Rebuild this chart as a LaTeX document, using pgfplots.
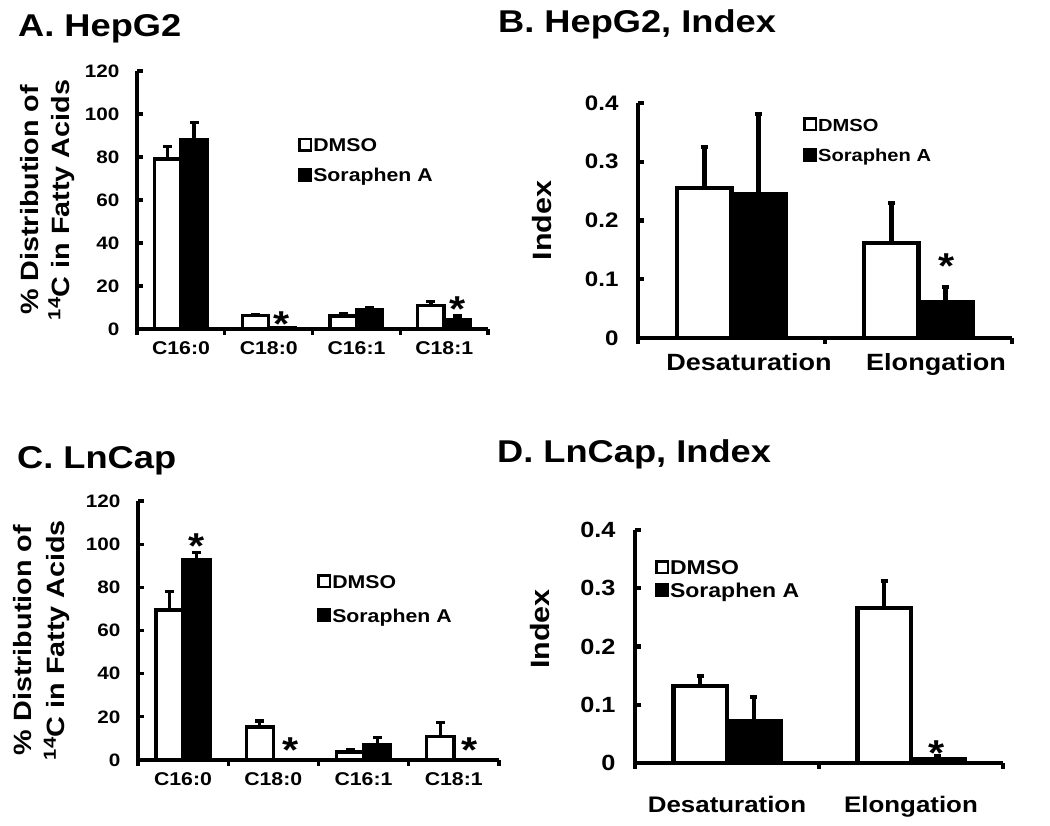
\documentclass[border=0pt]{standalone}
\usepackage{pgfplots}
\pgfplotsset{compat=1.18}
\usepackage{pgfplotstable}
\usepackage{fontspec}
\setmainfont{Liberation Sans}[FakeStretch=1.15]

\pgfplotstableread{
x dmso dmsoerr sor sorerr
1 79   6    88  8
2 6.3  0.3  0.5 0.1
3 6    1    8.8 1.2
4 11   1.8  4.3 1.7
}\dataA
\pgfplotstableread{
x dmso dmsoerr sor sorerr
1 0.255 0.070 0.245 0.136
2 0.162 0.068 0.061 0.026
}\dataB
\pgfplotstableread{
x dmso dmsoerr sor sorerr
1 69.5 8.5 93  3
2 15.3 2.7 0.3 0
3 3.7  1.0 7   3.4
4 11   6.5 0.3 0
}\dataC
\pgfplotstableread{
x dmso dmsoerr sor sorerr
1 0.132 0.017 0.072 0.041
2 0.266 0.046 0.007 0.004
}\dataD

\tikzset{ast/.style={anchor=base, yshift=-20.5pt, inner sep=0pt, text depth=0pt,
  font=\fontsize{36}{36}\selectfont\bfseries}}
\pgfplotsset{
  panel/.style={
    scale only axis, axis lines=left,
    axis line style={-, line width=#1},
    clip=false, enlargelimits=false,
    ybar=0pt, bar width=0.3,
    tick align=inside, major tick length=6pt,
    tick style={line width=#1, black},
    xtick style={yshift=-6pt},
    /pgf/number format/assume math mode=true,
    legend cell align=left,
    legend style={draw=none, fill=none, inner sep=0pt,
      nodes={inner sep=1pt, anchor=base west}},
  },
  panel/.default=3.3pt,
  sq/.style={legend image code/.code={
      \draw[##1,/tikz/.cd,line width=2.5pt] (1.25pt,1.25pt) rectangle (12.75pt,12.75pt);}},
  eb/.style n args={2}{error bars/y dir=plus, error bars/y explicit,
    error bars/error mark=-,
    error bars/error bar style={line width=#1, black},
    error bars/error mark options={rotate=90, line width=#1, mark size=#2, black}},
  dm/.style n args={2}{fill=white, draw=black, line width=#1, sq, eb={#1}{#2}},
  so/.style n args={2}{fill=black, draw=black, line width=#1, sq, eb={#1}{#2}},
}

\begin{document}
\bfseries
\begin{tikzpicture}[x=1pt,y=1pt]
\useasboundingbox (0pt,0pt) rectangle (1050pt,825pt);

% titles
\node[anchor=base west, inner sep=0pt, font=\fontsize{31.5}{36}\selectfont\bfseries] at (18pt,788pt) {A. HepG2};
\node[anchor=base west, inner sep=0pt, font=\fontsize{31.5}{36}\selectfont\bfseries] at (498pt,792pt) {B. HepG2, Index};
\node[anchor=base west, inner sep=0pt, font=\fontsize{31.5}{36}\selectfont\bfseries] at (17pt,356pt) {C. LnCap};
\node[anchor=base west, inner sep=0pt, font=\fontsize{31.5}{36}\selectfont\bfseries] at (497pt,362pt) {D. LnCap, Index};

% ---------------- A
\begin{axis}[panel=3.3pt, at={(137pt,496pt)}, anchor=south west, width=351pt, height=258pt,
  xmin=0.5, xmax=4.5, ymin=0, ymax=120,
  ytick={0,20,...,120},
  yticklabel style={xshift=-14pt, font=\fontsize{18}{20}\selectfont\bfseries},
  xtick={0.5,1.5,2.5,3.5,4.5}, xticklabels={C16:0,C18:0,C16:1,C18:1,{}},
  xticklabel style={xshift=44pt, yshift=-9pt, font=\fontsize{18.5}{20}\selectfont\bfseries},
  ylabel={\% Distribution of\\\textsuperscript{14}C in Fatty Acids},
  ylabel style={at={(axis description cs:-0.255,0.5)}, anchor=center, align=center,
    font=\fontsize{25}{31}\selectfont\bfseries},
  legend style={at={(axis description cs:0.459,0.742)}, anchor=north west,
    font=\fontsize{18.5}{20}\selectfont\bfseries, row sep=13pt},
]
\addplot[dm={3.3pt}{4.5pt}] table[x=x, y=dmso, y error=dmsoerr]{\dataA};
\addlegendentry{DMSO}
\addplot[so={3.3pt}{4.5pt}] table[x=x, y=sor, y error=sorerr]{\dataA};
\addlegendentry{Soraphen A}
\node[ast] at (axis cs:2.15,6) {*};
\node[ast] at (axis cs:4.15,13) {*};
\end{axis}

% ---------------- B
\begin{axis}[panel=4.3pt, at={(638pt,487pt)}, anchor=south west, width=374pt, height=235pt,
  xmin=0.5, xmax=2.5, ymin=0, ymax=0.4, bar width=0.29,
  ytick={0,0.1,...,0.4},
  yticklabel style={xshift=-16pt, font=\fontsize{21}{24}\selectfont\bfseries},
  xtick={0.5,1.5,2.5}, xticklabels={Desaturation,Elongation,{}},
  xticklabel style={xshift=111pt, yshift=-12pt, font=\fontsize{23.5}{26}\selectfont\bfseries},
  ylabel={Index},
  ylabel style={at={(axis description cs:-0.257,0.5)}, anchor=center,
    font=\fontsize{26.5}{30}\selectfont\bfseries},
  legend style={at={(axis description cs:0.441,0.94)}, anchor=north west,
    font=\fontsize{17.5}{20}\selectfont\bfseries, row sep=14pt},
]
\addplot[dm={4.3pt}{3.8pt}] table[x=x, y=dmso, y error=dmsoerr]{\dataB};
\addlegendentry{DMSO}
\addplot[so={4.3pt}{3.8pt}] table[x=x, y=sor, y error=sorerr]{\dataB};
\addlegendentry{Soraphen A}
\node[ast] at (axis cs:2.15,0.136) {*};
\end{axis}

% ---------------- C
\begin{axis}[panel=3.3pt, at={(138pt,65pt)}, anchor=south west, width=361pt, height=259pt,
  xmin=0.5, xmax=4.5, ymin=0, ymax=120,
  ytick={0,20,...,120},
  yticklabel style={xshift=-14pt, font=\fontsize{18}{20}\selectfont\bfseries},
  xtick={0.5,1.5,2.5,3.5,4.5}, xticklabels={C16:0,C18:0,C16:1,C18:1,{}},
  xticklabel style={xshift=45pt, yshift=-9pt, font=\fontsize{18.5}{20}\selectfont\bfseries},
  ylabel={\% Distribution of\\\textsuperscript{14}C in Fatty Acids},
  ylabel style={at={(axis description cs:-0.266,0.463)}, anchor=center, align=center,
    font=\fontsize{25}{33}\selectfont\bfseries},
  legend style={at={(axis description cs:0.496,0.718)}, anchor=north west,
    font=\fontsize{18.5}{20}\selectfont\bfseries, row sep=17pt},
]
\addplot[dm={3.3pt}{4.5pt}] table[x=x, y=dmso, y error=dmsoerr]{\dataC};
\addlegendentry{DMSO}
\addplot[so={3.3pt}{4.5pt}] table[x=x, y=sor, y error=sorerr]{\dataC};
\addlegendentry{Soraphen A}
\node[ast] at (axis cs:1.15,102.9) {*};
\node[ast] at (axis cs:2.19,8.3) {*};
\node[ast] at (axis cs:4.17,8.3) {*};
\end{axis}

% ---------------- D
\begin{axis}[panel=4.3pt, at={(635pt,62pt)}, anchor=south west, width=368pt, height=233pt,
  xmin=0.5, xmax=2.5, ymin=0, ymax=0.4, bar width=0.29,
  ytick={0,0.1,...,0.4},
  yticklabel style={xshift=-16pt, font=\fontsize{22}{24}\selectfont\bfseries},
  xtick={0.5,1.5,2.5}, xticklabels={Desaturation,Elongation,{}},
  xticklabel style={xshift=92pt, yshift=-30pt, font=\fontsize{22.5}{26}\selectfont\bfseries},
  ylabel={Index},
  ylabel style={at={(axis description cs:-0.258,0.575)}, anchor=center,
    font=\fontsize{26.5}{30}\selectfont\bfseries},
  legend style={at={(axis description cs:0.054,0.876)}, anchor=north west,
    font=\fontsize{20}{22}\selectfont\bfseries, row sep=5pt},
]
\addplot[dm={4.3pt}{3.8pt}] table[x=x, y=dmso, y error=dmsoerr]{\dataD};
\addlegendentry{DMSO}
\addplot[so={4.3pt}{3.8pt}] table[x=x, y=sor, y error=sorerr]{\dataD};
\addlegendentry{Soraphen A}
\node[ast] at (axis cs:2.14,0.031) {*};
\end{axis}
\end{tikzpicture}
\end{document}
